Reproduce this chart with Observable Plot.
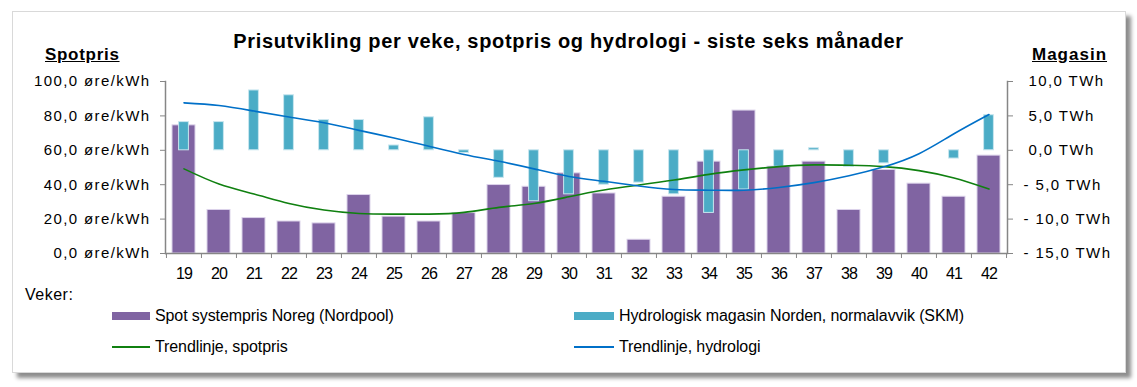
<!DOCTYPE html>
<html><head><meta charset="utf-8">
<script src="https://cdn.jsdelivr.net/npm/d3@7"></script>
<script src="https://cdn.jsdelivr.net/npm/@observablehq/plot@0.6"></script>
<style>
body{margin:0;background:#fff;font-family:"Liberation Sans",Arial,sans-serif;}
#wrap{position:relative;width:1137px;height:387px;overflow:hidden;background:#fff;}
#frame{position:absolute;left:12px;top:11px;width:1112px;height:360px;border:1px solid #d9d9d9;box-shadow:5px 5px 4px rgba(0,0,0,0.45);background:#fff;}
#chart{position:absolute;left:0;top:0;}
.t{position:absolute;white-space:nowrap;color:#000;line-height:20px;}
.sw{position:absolute;}
#chart svg [aria-label="y-axis tick label"] text{letter-spacing:1.4px;}
#chart svg [aria-label="x-axis tick label"] text{font-size:16px;letter-spacing:-0.9px;}
</style></head><body>
<div id="wrap">
<div id="frame"></div>
<div id="chart"></div>
<div class="t" id="title" style="left:0;width:1137px;text-align:center;top:31px;font-weight:bold;font-size:20px;letter-spacing:0.68px;">Prisutvikling per veke, spotpris og hydrologi - siste seks månader</div>
<div class="t" style="left:45px;top:45px;font-weight:bold;font-size:17px;text-decoration:underline;letter-spacing:0.7px;">Spotpris</div>
<div class="t" style="left:1032px;top:45px;font-weight:bold;font-size:17px;text-decoration:underline;letter-spacing:1px;">Magasin</div>
<div class="t" style="left:25px;top:285px;font-size:16px;letter-spacing:0.5px;">Veker:</div>
<div id="legend"></div>
</div>
<script>
const weeks = ["19","20","21","22","23","24","25","26","27","28","29","30","31","32","33","34","35","36","37","38","39","40","41","42"];
const spot = [74.5, 25.3, 20.6, 18.6, 17.5, 34.0, 21.4, 18.6, 23.5, 39.8, 38.8, 46.6, 34.9, 8.0, 33.0, 53.4, 83.1, 50.5, 53.4, 25.3, 48.6, 40.6, 33.0, 56.9];
const hydro = [4.1, 4.1, 8.7, 8.0, 4.4, 4.4, 0.7, 4.8, -0.4, -4.0, -7.4, -6.4, -5.0, -4.7, -6.4, -9.1, -5.7, -2.4, 0.3, -2.4, -1.9, 0.0, -1.2, 5.1];
const spotTrend = [49.2, 40.4, 34.6, 29.1, 25.3, 23.3, 22.9, 22.9, 23.9, 26.8, 29.1, 33.0, 36.9, 39.8, 42.7, 46.0, 48.6, 50.5, 51.5, 51.3, 50.5, 48.2, 43.9, 37.5];
const hydroTrend = [6.9, 6.5, 5.7, 4.85, 4.0, 2.9, 1.8, 0.6, -0.6, -1.6, -2.7, -3.8, -4.5, -5.2, -5.7, -5.8, -5.8, -5.4, -4.7, -3.7, -2.4, -0.5, 2.4, 5.2];
const leftTicks = [0, 20, 40, 60, 80, 100];
const rightTicks = [10, 5, 0, -5, -10, -15];
const legendItems = ["Spot systempris Noreg (Nordpool)", "Hydrologisk magasin Norden, normalavvik (SKM)", "Trendlinje, spotpris", "Trendlinje, hydrologi"];

const colSpot = "#8064A2", colHydro = "#4BACC6", colST = "#108010", colHT = "#0070C8", axisCol = "#868686";
// secondary axis (TWh) mapped onto primary (øre/kWh): -15..10 -> 0..100
const toL = v => (v + 15) * 4;
const fmt = v => v.toFixed(1).replace(".", ",");
const fmtR = v => (v < 0 ? "- " + fmt(-v) : fmt(v)) + " TWh";
const data = weeks.map((w, i) => ({week: w, spot: spot[i], hydro: hydro[i], st: spotTrend[i], ht: hydroTrend[i]}));
const half = (1137 - 165 - 130) / weeks.length / 2;

const chart = Plot.plot({
  width: 1137, height: 387,
  marginTop: 81, marginBottom: 134, marginLeft: 165, marginRight: 130,
  style: {fontFamily: '"Liberation Sans", Arial, sans-serif', fontSize: "15px", background: "transparent", color: "#000", overflow: "visible"},
  x: {type: "band", domain: weeks, paddingInner: 0.335, paddingOuter: 0.1675, axis: null, label: null},
  y: {domain: [0, 100], axis: null, label: null},
  marks: [
    Plot.barY(data, {x: "week", y: "spot", fill: colSpot, stroke: "#dcd3ea", strokeWidth: 1}),
    Plot.barY(data, {x: "week", y1: () => toL(0), y2: d => toL(d.hydro), fill: colHydro, stroke: "#c8e6ef", strokeWidth: 1, insetLeft: 6.6, insetRight: 6.6}),
    Plot.line(data, {x: "week", y: "st", stroke: colST, strokeWidth: 1.6, curve: "natural"}),
    Plot.line(data, {x: "week", y: d => toL(d.ht), stroke: colHT, strokeWidth: 1.6, curve: "natural"}),
    Plot.ruleY([0], {stroke: axisCol, strokeWidth: 1.5}),
    Plot.frame({anchor: "left", stroke: axisCol, strokeWidth: 1.5}),
    Plot.frame({anchor: "right", stroke: axisCol, strokeWidth: 1.5}),
    Plot.axisY(leftTicks, {anchor: "left", label: null, tickSize: 5, tickPadding: 10, stroke: axisCol, fill: "#000", tickFormat: d => fmt(d) + " øre/kWh", fontSize: 15}),
    Plot.axisY(rightTicks.filter(v => v >= 0).map(toL), {anchor: "right", label: null, tickSize: 5, tickPadding: 16, stroke: axisCol, fill: "#000", textAnchor: "start", tickFormat: d => fmtR(d / 4 - 15), fontSize: 15}),
    Plot.axisY(rightTicks.filter(v => v < 0).map(toL), {anchor: "right", label: null, tickSize: 5, tickPadding: 11, stroke: axisCol, fill: "#000", textAnchor: "start", tickFormat: d => fmtR(d / 4 - 15), fontSize: 15}),
    Plot.axisX(weeks, {anchor: "bottom", label: null, tickSize: 5, dx: -half, stroke: axisCol, tickFormat: () => ""}),
    Plot.axisX([weeks[weeks.length - 1]], {anchor: "bottom", label: null, tickSize: 5, dx: half, stroke: axisCol, tickFormat: () => ""}),
    Plot.axisX(weeks, {anchor: "bottom", label: null, tickSize: 0, tickPadding: 14, fill: "#000", fontSize: 16})
  ]
});
document.getElementById("chart").appendChild(chart);

// legend
const lg = document.getElementById("legend");
const legendDefs = [
  {x: 112, y: 316, w: 38, kind: "bar", color: colSpot},
  {x: 574, y: 316, w: 40, kind: "bar", color: colHydro},
  {x: 112, y: 347, w: 38, kind: "line", color: colST},
  {x: 574, y: 347, w: 40, kind: "line", color: colHT}
];
legendDefs.forEach((d, i) => {
  const sw = document.createElement("div");
  sw.className = "sw";
  const h = d.kind === "bar" ? 8 : 1.6;
  sw.style.cssText = `left:${d.x}px;top:${d.y - h / 2}px;width:${d.w}px;height:${h}px;background:${d.color};`;
  lg.appendChild(sw);
  const t = document.createElement("div");
  t.className = "t";
  t.style.cssText = `left:${d.x + d.w + 5}px;top:${d.y - 10}px;font-size:16px;letter-spacing:-0.1px;`;
  t.textContent = legendItems[i];
  lg.appendChild(t);
});
</script>
</body></html>
